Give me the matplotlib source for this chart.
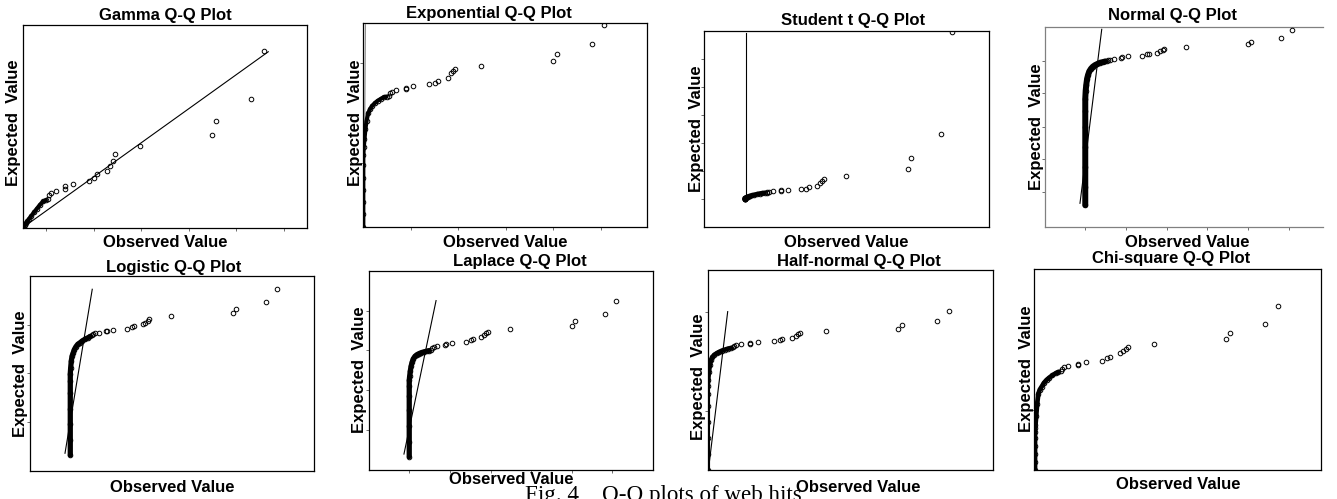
import matplotlib
matplotlib.use("Agg")
import matplotlib.pyplot as plt

# sorted observed web hits (same sample in every panel)
obs_bulk = [0.0, 0.0, 0.0, 0.0, 0.0, 0.0, 0.0, 0.2, 0.5, 0.9, 1.4, 2.0, 2.8, 3.7, 4.8, 6.0, 7.3, 8.6, 9.8]
obs_tail = [10.7, 11.1, 12.0, 13.9, 17.8, 17.9, 21.1, 27.8, 30.2, 31.4, 35.5, 36.9, 38.0, 38.8, 49.6, 79.9, 81.5, 96.3, 101.5]

# expected quantiles for each fitted distribution (rescaled 0-100)
gamma_bulk = [0.0, 0.0, 0.0, 0.0, 0.0, 0.0, 0.0, 0.4, 0.9, 1.5, 2.3, 3.2, 4.5, 5.9, 7.6, 9.4, 11.3, 13.0, 13.6]
gamma_tail = [14.0, 16.1, 17.3, 18.1, 19.2, 20.4, 21.5, 22.9, 24.7, 26.3, 28.1, 30.6, 33.1, 36.5, 40.5, 45.6, 52.8, 63.7, 87.2]
expo_bulk = [0.0, 6.0, 12.0, 18.0, 24.0, 30.0, 35.0, 39.0, 43.0, 48.0, 52.0, 55.5, 57.5, 59.2, 60.5, 61.7, 62.6, 63.5, 63.8]
expo_tail = [64.1, 65.4, 66.2, 66.8, 67.3, 68.1, 69.0, 69.8, 70.6, 71.6, 72.7, 75.5, 76.5, 77.1, 78.9, 81.4, 84.6, 89.4, 99.0]
stud_bulk = [14.0, 14.1, 14.2, 14.3, 14.4, 14.5, 14.6, 14.7, 14.9, 15.1, 15.3, 15.5, 15.7, 16.0, 16.3, 16.6, 16.9, 17.1, 17.3]
stud_tail = [17.4, 17.5, 17.7, 18.1, 18.4, 18.6, 18.9, 19.1, 19.4, 20.1, 21.0, 22.1, 23.3, 24.2, 26.1, 29.3, 34.9, 47.2, 99.3]
norm_bulk = [10.8, 20.0, 30.0, 40.0, 50.0, 58.0, 64.0, 68.0, 71.0, 74.0, 76.0, 77.7, 79.0, 80.0, 80.8, 81.4, 82.0, 82.3, 82.6]
norm_tail = [82.8, 83.2, 83.5, 84.0, 84.3, 84.7, 85.2, 85.5, 86.2, 86.5, 87.0, 87.7, 88.3, 89.0, 89.8, 91.2, 92.5, 94.5, 98.5]
logi_bulk = [8.2, 16.0, 24.0, 32.0, 40.0, 46.0, 50.0, 53.0, 56.5, 59.0, 60.5, 62.3, 63.8, 65.0, 65.8, 66.8, 67.6, 68.3, 69.0]
logi_tail = [69.6, 70.1, 70.6, 70.9, 71.6, 72.0, 72.3, 72.8, 73.7, 74.4, 75.2, 76.1, 77.1, 77.9, 79.3, 81.0, 83.2, 86.5, 93.2]
lapl_bulk = [6.7, 14.0, 22.0, 30.0, 37.0, 42.0, 45.0, 47.0, 49.5, 52.0, 54.0, 55.8, 57.0, 57.8, 58.4, 58.9, 59.3, 59.6, 59.9]
lapl_tail = [60.2, 61.0, 61.7, 62.2, 62.5, 63.0, 63.5, 64.4, 65.2, 65.7, 66.6, 67.6, 68.6, 69.4, 70.7, 72.4, 74.7, 78.1, 84.8]
half_bulk = [0.0, 8.0, 16.0, 24.0, 32.0, 38.0, 42.0, 45.0, 49.0, 52.5, 55.0, 56.5, 57.6, 58.3, 59.0, 59.7, 60.2, 60.7, 61.0]
half_tail = [61.3, 61.8, 62.3, 62.8, 63.0, 63.5, 64.0, 64.5, 65.0, 65.5, 66.2, 67.0, 67.8, 68.7, 69.5, 70.7, 72.3, 74.7, 79.3]
chi_bulk = [0.0, 4.0, 8.0, 12.0, 16.0, 19.0, 21.0, 22.5, 27.0, 33.0, 38.0, 40.0, 41.5, 43.3, 44.8, 46.0, 47.1, 48.1, 48.8]
chi_tail = [49.4, 50.2, 51.1, 51.6, 52.2, 52.7, 53.6, 54.4, 55.6, 56.2, 58.0, 59.2, 60.2, 61.0, 62.9, 65.2, 68.3, 72.6, 81.8]

# reference lines (two end points each)
gamma_ref = ([0.0, 103.5], [0.0, 86.8])
expo_ref = ([0.3, 0.9], [0.0, 99.0])
stud_ref = ([0.5, 0.5], [14.5, 99.2])
norm_ref = ([-2.6, 8.1], [11.7, 98.7])
logi_ref = ([-2.6, 10.8], [9.1, 93.2])
lapl_ref = ([-2.6, 13.2], [8.0, 85.0])
half_ref = ([0.6, 8.4], [3.0, 79.2])

titles = ["Gamma Q-Q Plot", "Exponential Q-Q Plot", "Student t Q-Q Plot", "Normal Q-Q Plot",
          "Logistic Q-Q Plot", "Laplace Q-Q Plot", "Half-normal Q-Q Plot", "Chi-square Q-Q Plot"]

W, H = 1337, 499
fig = plt.figure(figsize=(W / 100, H / 100), dpi=100)
plt.rcParams["font.family"] = ["Liberation Sans", "DejaVu Sans"]

# box in pixels (left, top, right, bottom), xlim, x ticks, y ticks,
# title (x, y), xlabel (x, y), ylabel (x, y) in axes fraction, bulk width, ref line colour
panels = [
    (gamma_bulk, gamma_tail, gamma_ref, (22.7, 25, 306.7, 227.7), (0, 119.7), [10, 30, 50, 70, 90, 110], [],
     (0.501, 1.025), (0.501, -0.095), (-0.034, 0.517), 3.0, "black"),
    (expo_bulk, expo_tail, expo_ref, (363.3, 22.7, 647.3, 226.7), (0, 119.7), [20, 40, 60, 80, 100], [31, 80],
     (0.443, 1.022), (0.501, -0.10), (-0.029, 0.508), 3.0, "#8a8a8a"),
    (stud_bulk, stud_tail, stud_ref, (704.3, 31, 989, 226.7), (-19.8, 119.8), [], [14.1, 28.4, 42.8, 57.1, 71.4, 85.7],
     (0.521, 1.031), (0.498, -0.104), (-0.027, 0.503), 3.4, "black"),
    (norm_bulk, norm_tail, norm_ref, (1045, 26.7, 1323, 226.7), (-19.8, 116.9), [0, 20, 40, 60, 80, 100],
     [17.2, 33.7, 50.0, 66.7, 83.0], (0.457, 1.034), (0.511, -0.10), (-0.032, 0.5), 4.3, "black"),
    (logi_bulk, logi_tail, logi_ref, (30, 276, 314, 471), (-19.8, 119.8), [], [24.9, 50.4, 74.9],
     (0.506, 1.022), (0.5, -0.109), (-0.033, 0.5), 3.8, "black"),
    (lapl_bulk, lapl_tail, lapl_ref, (369, 270.7, 652.7, 470), (-19.8, 119.8), [0, 20, 40, 60, 80, 100],
     [20.1, 40.1, 60.2, 79.8], (0.533, 1.024), (0.502, -0.070), (-0.032, 0.502), 3.8, "black"),
    (half_bulk, half_tail, half_ref, (707.7, 270, 992.7, 470), (0, 119.7), [], [29.5, 78.8],
     (0.531, 1.02), (0.53, -0.109), (-0.031, 0.468), 3.4, "black"),
    (chi_bulk, chi_tail, None, (1034.3, 269, 1321, 470), (-0.3, 119.5), [], [29.9],
     (0.476, 1.028), (0.502, -0.096), (-0.027, 0.502), 3.4, "black"),
]

for i, (bulk, tail, ref, box, xlim, xt, yt, tpos, xlpos, ylpos, bw, rc) in enumerate(panels):
    l, t, r, b = box
    ax = fig.add_axes([l / W, 1 - b / H, (r - l) / W, (b - t) / H])
    # dense run of small counts, then the individual large counts
    ax.plot(obs_bulk, bulk, color="black", lw=bw, solid_capstyle="round", zorder=2)
    ax.plot(obs_bulk + obs_tail, bulk + tail, "o", mfc="none", mec="black", ms=3.3, mew=0.7, zorder=3)
    if ref is not None:
        ax.plot(ref[0], ref[1], color=rc, lw=0.8, zorder=1)
    ax.set_xlim(*xlim)
    ax.set_ylim(0, 100)
    ax.set_xticks(xt)
    ax.set_yticks(yt)
    ax.tick_params(direction="out", length=2.5, width=0.6, color="#555555",
                   labelbottom=False, labelleft=False)
    spine_col = "#808080" if i == 3 else "black"
    for s in ax.spines.values():
        s.set_linewidth(0.9)
        s.set_color(spine_col)
    if i == 3:
        ax.spines["right"].set_visible(False)
    ax.text(tpos[0], tpos[1], titles[i], transform=ax.transAxes, ha="center", va="baseline",
            fontsize=12, fontweight="bold")
    ax.text(xlpos[0], xlpos[1], "Observed Value", transform=ax.transAxes, ha="center", va="baseline",
            fontsize=12, fontweight="bold")
    ax.text(ylpos[0], ylpos[1], "Expected  Value", transform=ax.transAxes, ha="center", va="center",
            rotation=90, fontsize=12, fontweight="bold")

fig.text(525 / W, -2.5 / H, "Fig. 4    Q-Q plots of web hits", family="Liberation Serif",
         fontsize=16.6, ha="left", va="baseline")

fig.savefig("out.png", dpi=100)
